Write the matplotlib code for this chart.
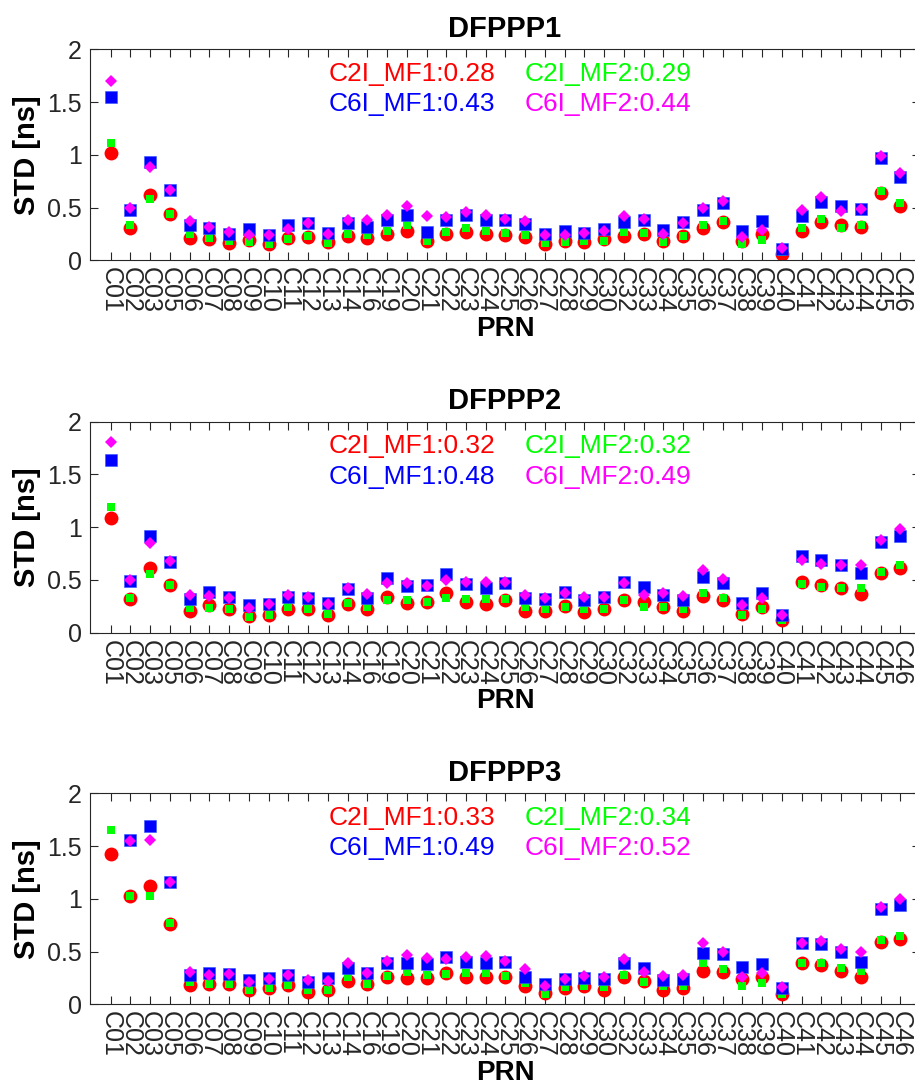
import numpy as np
import matplotlib
matplotlib.use('Agg')
import matplotlib.pyplot as plt

plt.rcParams['font.family'] = ['Liberation Sans', 'DejaVu Sans']

prn = ['C01', 'C02', 'C03', 'C05', 'C06', 'C07', 'C08', 'C09', 'C10', 'C11',
       'C12', 'C13', 'C14', 'C16', 'C19', 'C20', 'C21', 'C22', 'C23', 'C24',
       'C25', 'C26', 'C27', 'C28', 'C29', 'C30', 'C32', 'C33', 'C34', 'C35',
       'C36', 'C37', 'C38', 'C39', 'C40', 'C41', 'C42', 'C43', 'C44', 'C45', 'C46']

titles = ['DFPPP1', 'DFPPP2', 'DFPPP3']

# STD [ns] per PRN
c2i_mf1 = [
    [1.02, 0.31, 0.62, 0.44, 0.21, 0.20, 0.16, 0.19, 0.15, 0.21, 0.22, 0.17, 0.23, 0.21, 0.25, 0.28, 0.18, 0.25, 0.27, 0.25, 0.24,
     0.22, 0.15, 0.18, 0.17, 0.20, 0.23, 0.25, 0.18, 0.23, 0.31, 0.36, 0.18, 0.25, 0.06, 0.28, 0.36, 0.33, 0.32, 0.64, 0.51],
    [1.09, 0.32, 0.61, 0.45, 0.21, 0.26, 0.22, 0.16, 0.17, 0.22, 0.22, 0.17, 0.27, 0.22, 0.34, 0.28, 0.29, 0.38, 0.29, 0.27, 0.31,
     0.21, 0.21, 0.25, 0.20, 0.22, 0.31, 0.29, 0.24, 0.21, 0.35, 0.31, 0.18, 0.24, 0.12, 0.48, 0.45, 0.42, 0.37, 0.57, 0.61],
    [1.42, 1.03, 1.12, 0.76, 0.18, 0.19, 0.19, 0.14, 0.15, 0.18, 0.12, 0.14, 0.22, 0.19, 0.26, 0.25, 0.25, 0.30, 0.26, 0.26, 0.26,
     0.17, 0.11, 0.15, 0.17, 0.14, 0.26, 0.22, 0.14, 0.15, 0.32, 0.31, 0.24, 0.26, 0.10, 0.39, 0.37, 0.32, 0.26, 0.59, 0.62],
]
c2i_mf2 = [
    [1.11, 0.33, 0.58, 0.44, 0.25, 0.21, 0.18, 0.17, 0.15, 0.20, 0.23, 0.16, 0.25, 0.24, 0.28, 0.33, 0.18, 0.27, 0.31, 0.28, 0.26,
     0.24, 0.16, 0.17, 0.18, 0.18, 0.27, 0.26, 0.17, 0.23, 0.33, 0.37, 0.15, 0.19, 0.08, 0.31, 0.39, 0.31, 0.33, 0.66, 0.54],
    [1.19, 0.33, 0.56, 0.45, 0.23, 0.23, 0.22, 0.15, 0.17, 0.24, 0.22, 0.18, 0.28, 0.24, 0.31, 0.31, 0.29, 0.33, 0.32, 0.32, 0.32,
     0.24, 0.22, 0.24, 0.22, 0.22, 0.31, 0.24, 0.24, 0.22, 0.38, 0.33, 0.17, 0.22, 0.12, 0.46, 0.43, 0.42, 0.42, 0.58, 0.64],
    [1.65, 1.03, 1.03, 0.77, 0.21, 0.19, 0.19, 0.14, 0.15, 0.18, 0.14, 0.14, 0.26, 0.19, 0.27, 0.31, 0.28, 0.29, 0.30, 0.30, 0.27,
     0.20, 0.10, 0.16, 0.17, 0.16, 0.28, 0.21, 0.17, 0.17, 0.39, 0.33, 0.17, 0.20, 0.10, 0.39, 0.39, 0.34, 0.32, 0.61, 0.65],
]
c6i_mf1 = [
    [1.55, 0.48, 0.93, 0.67, 0.33, 0.31, 0.25, 0.30, 0.24, 0.33, 0.35, 0.26, 0.35, 0.32, 0.38, 0.43, 0.27, 0.38, 0.43, 0.38, 0.38,
     0.34, 0.25, 0.28, 0.26, 0.30, 0.36, 0.38, 0.29, 0.36, 0.48, 0.54, 0.28, 0.37, 0.11, 0.42, 0.55, 0.51, 0.49, 0.97, 0.79],
    [1.64, 0.49, 0.92, 0.67, 0.32, 0.39, 0.34, 0.26, 0.27, 0.34, 0.33, 0.28, 0.41, 0.33, 0.52, 0.44, 0.45, 0.56, 0.46, 0.42, 0.47,
     0.33, 0.32, 0.39, 0.31, 0.34, 0.48, 0.43, 0.36, 0.31, 0.53, 0.47, 0.28, 0.38, 0.17, 0.73, 0.69, 0.64, 0.57, 0.86, 0.92],
    [2.70, 1.56, 1.69, 1.16, 0.28, 0.30, 0.29, 0.23, 0.25, 0.28, 0.21, 0.25, 0.34, 0.30, 0.39, 0.39, 0.38, 0.45, 0.40, 0.39, 0.40,
     0.26, 0.19, 0.24, 0.25, 0.24, 0.39, 0.34, 0.23, 0.24, 0.49, 0.48, 0.35, 0.38, 0.15, 0.58, 0.57, 0.50, 0.40, 0.90, 0.94],
]
c6i_mf2 = [
    [1.70, 0.50, 0.88, 0.67, 0.37, 0.32, 0.27, 0.24, 0.24, 0.30, 0.35, 0.25, 0.38, 0.38, 0.43, 0.51, 0.42, 0.41, 0.46, 0.43, 0.39,
     0.37, 0.24, 0.24, 0.26, 0.28, 0.42, 0.39, 0.25, 0.35, 0.50, 0.56, 0.22, 0.29, 0.12, 0.48, 0.60, 0.47, 0.49, 0.99, 0.83],
    [1.81, 0.50, 0.85, 0.68, 0.36, 0.35, 0.33, 0.23, 0.27, 0.36, 0.34, 0.27, 0.42, 0.37, 0.47, 0.47, 0.44, 0.50, 0.48, 0.48, 0.48,
     0.36, 0.33, 0.38, 0.34, 0.34, 0.47, 0.36, 0.38, 0.35, 0.59, 0.51, 0.26, 0.33, 0.17, 0.69, 0.65, 0.64, 0.64, 0.88, 0.98],
    [3.20, 1.55, 1.56, 1.16, 0.31, 0.28, 0.29, 0.21, 0.24, 0.28, 0.23, 0.22, 0.39, 0.30, 0.41, 0.47, 0.44, 0.43, 0.45, 0.46, 0.41,
     0.33, 0.17, 0.24, 0.27, 0.26, 0.43, 0.31, 0.27, 0.28, 0.58, 0.50, 0.26, 0.30, 0.16, 0.58, 0.60, 0.52, 0.50, 0.92, 1.00],
]

# mean STD printed in each panel
mean_c2i_mf1 = ['0.28', '0.32', '0.33']
mean_c2i_mf2 = ['0.29', '0.32', '0.34']
mean_c6i_mf1 = ['0.43', '0.48', '0.49']
mean_c6i_mf2 = ['0.44', '0.49', '0.52']

W, H = 915, 1090
fig = plt.figure(figsize=(W / 100, H / 100), dpi=100)

axcol = '#262626'
tops = [49.3, 421.7, 793.3]
x = np.arange(len(prn))

for k in range(3):
    top = tops[k]
    ax = fig.add_axes([90 / W, 1 - (top + 211) / H, 830 / W, 211 / H])

    ax.plot(x, c2i_mf1[k], 'o', color='red', ms=10, mew=0)
    ax.plot(x, c2i_mf2[k], 's', color='#00ff00', ms=5.8, mew=0)
    ax.plot(x, c6i_mf1[k], 's', color='blue', ms=8.8, mew=0.4, mec='#3355ff')
    ax.plot(x, c6i_mf2[k], 'D', color='magenta', ms=6.4, mew=0)

    ax.set_xlim(-1.048, 41.0)
    ax.set_ylim(0, 2)
    ax.set_xticks(x)
    ax.set_xticklabels(prn, rotation=-90)
    ax.set_yticks([0, 0.5, 1, 1.5, 2])
    ax.set_yticklabels(['0', '0.5', '1', '1.5', '2'])
    ax.tick_params(direction='in', length=5.8, width=0.8, colors=axcol,
                   labelsize=18, top=True, right=True)
    ax.tick_params(axis='y', pad=6)
    ax.tick_params(axis='x', pad=5)
    for sp in ax.spines.values():
        sp.set_color(axcol)
        sp.set_linewidth(0.8)

    ax.set_title(titles[k], fontsize=21, fontweight='bold', pad=9)
    ax.set_xlabel('PRN', fontsize=20, fontweight='bold', labelpad=2)
    ax.set_ylabel('STD [ns]', fontsize=21, fontweight='bold', labelpad=4)

    ax.text(0.287, 0.852, 'C2I_MF1:' + mean_c2i_mf1[k], color='red', fontsize=19,
            transform=ax.transAxes, va='baseline')
    ax.text(0.524, 0.852, 'C2I_MF2:' + mean_c2i_mf2[k], color='#00ff00', fontsize=19,
            transform=ax.transAxes, va='baseline')
    ax.text(0.287, 0.706, 'C6I_MF1:' + mean_c6i_mf1[k], color='blue', fontsize=19,
            transform=ax.transAxes, va='baseline')
    ax.text(0.524, 0.706, 'C6I_MF2:' + mean_c6i_mf2[k], color='magenta', fontsize=19,
            transform=ax.transAxes, va='baseline')

fig.savefig('out.png', dpi=100)
